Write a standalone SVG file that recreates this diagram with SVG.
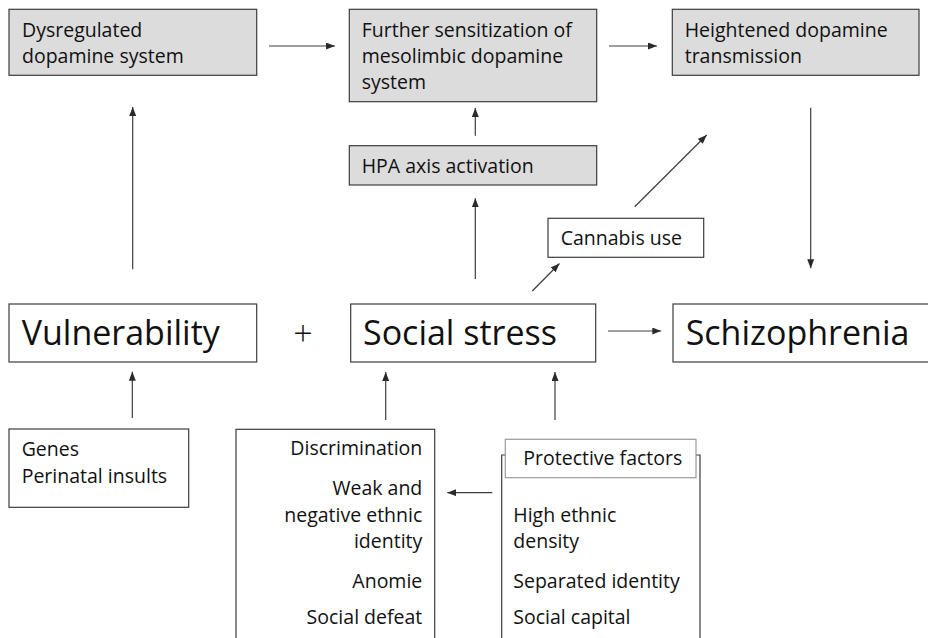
<svg xmlns="http://www.w3.org/2000/svg" width="928" height="638" viewBox="0 0 928 638">
<defs>
<style>
.box{fill:#fff;stroke:#3c3c3c;stroke-width:1.2}
.gray{fill:#dcdcdc;stroke:#3c3c3c;stroke-width:1.2}
.inner{fill:#fff;stroke:#9a9a9a;stroke-width:1.2}
text{font-family:"Open Sans","Noto Sans","Liberation Sans",sans-serif;fill:#111}
.s{font-size:19.5px}
.b{font-size:34px}
.r{text-anchor:end}
.conn line{stroke:#3c3c3c;stroke-width:1.2;marker-end:url(#ah)}
</style>
<marker id="ah" markerUnits="userSpaceOnUse" markerWidth="9" markerHeight="8" refX="9" refY="3.5" orient="auto">
<path d="M0,0 L9,3.5 L0,7 z" fill="#2a2a2a"/>
</marker>
</defs>
<rect width="928" height="638" fill="#fff"/>

<g id="dysregulated">
<rect class="gray" x="9" y="9.3" width="247.7" height="66"/>
<text class="s" x="22" y="37">Dysregulated</text>
<text class="s" x="22" y="63">dopamine system</text>
</g>
<g id="further">
<rect class="gray" x="349.3" y="9.3" width="247.4" height="92.4"/>
<text class="s" x="361.7" y="37">Further sensitization of</text>
<text class="s" x="361.7" y="63">mesolimbic dopamine</text>
<text class="s" x="361.7" y="89">system</text>
</g>
<g id="heightened">
<rect class="gray" x="672.3" y="9.3" width="246.7" height="66"/>
<text class="s" x="684.7" y="37">Heightened dopamine</text>
<text class="s" x="684.7" y="63">transmission</text>
</g>
<g id="hpa">
<rect class="gray" x="349.3" y="145.7" width="247.4" height="39.3"/>
<text class="s" x="361.7" y="173">HPA axis activation</text>
</g>
<g id="cannabis">
<rect class="box" x="548" y="218.3" width="155.7" height="39"/>
<text class="s" x="560.7" y="245">Cannabis use</text>
</g>
<g id="vulnerability">
<rect class="box" x="9" y="304" width="247.7" height="58"/>
<text class="b" x="21.7" y="345">Vulnerability</text>
</g>
<g id="plus">
<text class="b" x="303" y="345.5" text-anchor="middle" style="font-weight:300">+</text>
</g>
<g id="social-stress">
<rect class="box" x="350.7" y="304" width="245" height="58"/>
<text class="b" x="363" y="345">Social stress</text>
</g>
<g id="schizophrenia">
<rect class="box" x="673" y="304" width="270" height="58"/>
<text class="b" x="685.7" y="345">Schizophrenia</text>
</g>
<g id="genes">
<rect class="box" x="9" y="429" width="179.7" height="78.3"/>
<text class="s" x="21.7" y="456">Genes</text>
<text class="s" x="21.7" y="483">Perinatal insults</text>
</g>
<g id="risk-factors">
<rect class="box" x="236" y="429.3" width="198.7" height="230"/>
<text class="s r" x="422.3" y="455">Discrimination</text>
<text class="s r" x="422.3" y="495">Weak and</text>
<text class="s r" x="422.3" y="521.7">negative ethnic</text>
<text class="s r" x="422.3" y="548.3">identity</text>
<text class="s r" x="422.3" y="588.3">Anomie</text>
<text class="s r" x="422.3" y="624">Social defeat</text>
</g>
<g id="protective">
<path d="M501.7,660 V455 H700 V660" fill="none" stroke="#3c3c3c" stroke-width="1.2"/>
<rect class="inner" x="505.3" y="439.3" width="190.7" height="38.4"/>
<text class="s" x="523.3" y="465">Protective factors</text>
<text class="s" x="513.3" y="521.7">High ethnic</text>
<text class="s" x="513.3" y="548.3">density</text>
<text class="s" x="513.3" y="588.3">Separated identity</text>
<text class="s" x="513.3" y="624">Social capital</text>
</g>

<g id="connectors" class="conn">
<line x1="269" y1="46" x2="335" y2="46"/>
<line x1="609" y1="46" x2="657" y2="46"/>
<line x1="475.3" y1="135.7" x2="475.3" y2="108"/>
<line x1="475.3" y1="279" x2="475.3" y2="198.3"/>
<line x1="132.7" y1="269.3" x2="132.7" y2="107"/>
<line x1="532.3" y1="291" x2="559.5" y2="263.5"/>
<line x1="634.7" y1="206.7" x2="706.7" y2="135"/>
<line x1="810.7" y1="107.7" x2="810.7" y2="268.3"/>
<line x1="608" y1="331" x2="661.3" y2="331"/>
<line x1="132.3" y1="418" x2="132.3" y2="371.7"/>
<line x1="385.7" y1="420" x2="385.7" y2="372"/>
<line x1="555" y1="420" x2="555" y2="372"/>
<line x1="492.3" y1="492.7" x2="447.3" y2="492.7"/>
</g>
</svg>
